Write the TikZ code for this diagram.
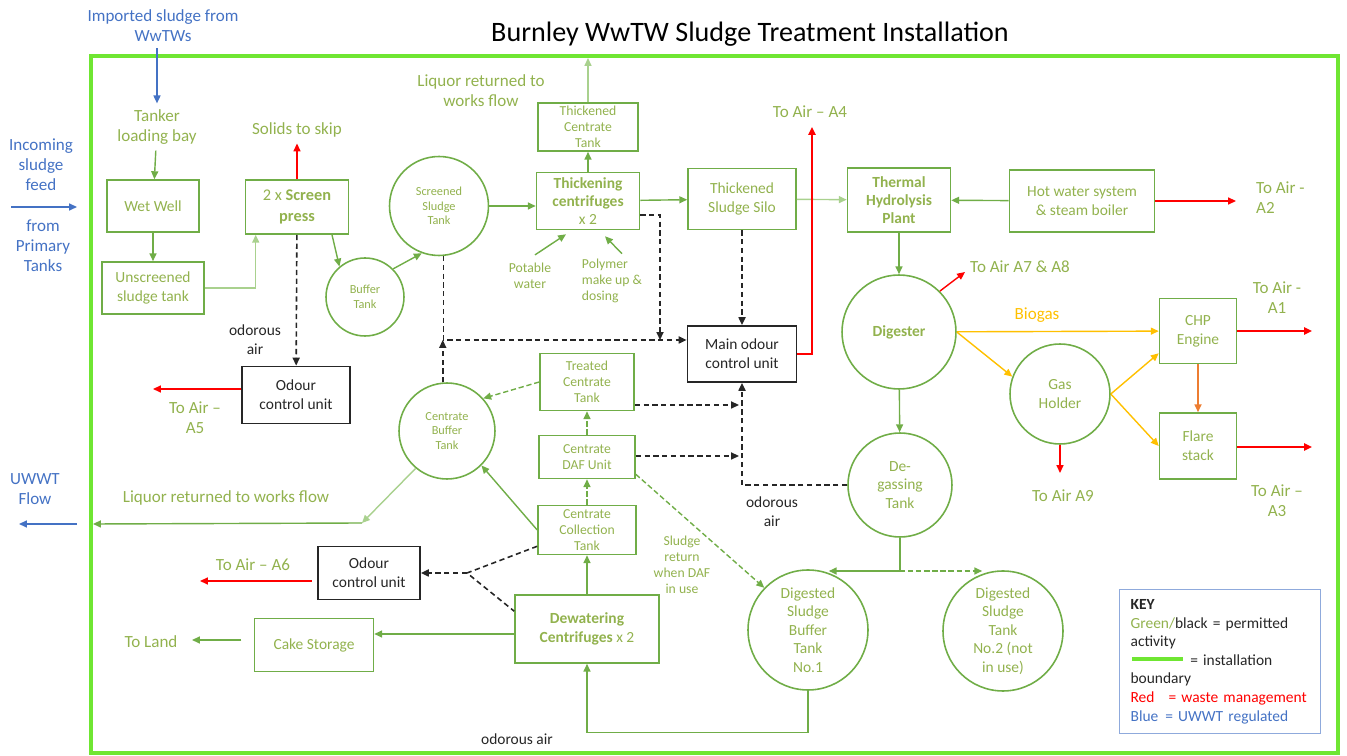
\documentclass[tikz,border=0pt]{standalone}
\usepackage{fontspec}
\setmainfont{Carlito}
\usepackage{tikz}
\usetikzlibrary{arrows.meta, positioning, calc}
\definecolor{stgreen}{HTML}{70AD47}
\definecolor{stlight}{HTML}{A9D18E}
\definecolor{sttext}{HTML}{92B24E}
\definecolor{stbound}{HTML}{6FE632}
\definecolor{stblue}{HTML}{4472C4}
\definecolor{stkey}{HTML}{8FAADC}
\definecolor{stred}{HTML}{FF0000}
\definecolor{stgas}{HTML}{FFC000}
\definecolor{storange}{HTML}{ED7D31}
\definecolor{stdark}{HTML}{262626}
\tikzset{
  plant/.style={rectangle, draw=stgreen, line width=0.9pt, text=sttext,
    align=center, font=\fontsize{8.8}{11}\selectfont, inner sep=1pt},
  tank/.style={circle, draw=stgreen, line width=0.9pt, text=sttext,
    align=center, font=\fontsize{8.8}{10.6}\selectfont, inner sep=0pt},
  odourbox/.style={rectangle, draw=stdark, line width=1pt, text=stdark,
    align=center, font=\fontsize{8.8}{11}\selectfont, inner sep=1pt},
  lbl/.style={text=sttext, align=center, font=\fontsize{9.7}{11.4}\selectfont},
  bluelbl/.style={lbl, text=stblue},
  blacklbl/.style={text=stdark, align=center, font=\fontsize{8.8}{10.6}\selectfont},
  smalltxt/.style={font=\fontsize{7.8}{9.2}\selectfont},
  tinytxt/.style={font=\fontsize{7}{8.4}\selectfont},
  keyframe/.style={rectangle, draw=stkey, line width=0.8pt, text=stdark,
    align=left, font=\fontsize{8.8}{10.6}\selectfont, text width=102pt,
    inner xsep=6.2pt, minimum height=2.88cm},
  stip/.style={-{Triangle[length=4.5pt,width=4pt]}},
  ar/.style={stip, stgreen, line width=0.8pt},
  arl/.style={stip, stlight, line width=0.8pt},
  dgar/.style={stip, stgreen, line width=0.8pt, dash pattern=on 3pt off 1.6pt},
  dline/.style={stdark, line width=0.9pt, dash pattern=on 3pt off 2pt},
  dar/.style={dline, stip},
  rar/.style={stip, stred, line width=0.8pt},
  gar/.style={stip, stgas, line width=0.8pt},
  bar/.style={stip, stblue, line width=0.8pt},
}
\begin{document}
\begin{tikzpicture}[x=0.02cm, y=-0.02cm]
  \useasboundingbox (0,0) rectangle (1347,756);
  % installation boundary
  \draw[stbound, line width=2.2pt] (91,56) rectangle (1338,753);
  \node[font=\fontsize{16}{18}\selectfont] (title) at (750,34) {Burnley WwTW Sludge Treatment Installation};

  % feeds outside the boundary
  \node[bluelbl] (imported) at (163,26) {Imported sludge from\\WwTWs};
  \node[bluelbl] (incoming) at (41,165) {Incoming\\sludge\\feed};
  \node[bluelbl] (primary) at (43,246) {from\\Primary\\Tanks};
  \node[bluelbl] (uwwt) at (35,489) {UWWT\\Flow};
  \coordinate (feedin) at (11,207);
  \coordinate (feedout) at (77,207);
  \coordinate (uwin) at (77,524);
  \coordinate (uwout) at (19,524);

  % inlet works and thickening
  \node[lbl] (tanker) at (157,127) {Tanker\\loading bay};
  \node[plant, minimum width=1.84cm, minimum height=1.04cm] (wetwell) at (153,206) {Wet Well};
  \node[plant, minimum width=2.04cm, minimum height=1.04cm] (unscreened) at (153,288) {Unscreened\\sludge tank};
  \node[plant, minimum width=2.06cm, minimum height=1.08cm, font=\fontsize{9.3}{12}\selectfont] (screen) at (297,207) {2 x \textbf{Screen}\\\textbf{press}};
  \node[lbl] (skip) at (297,130) {Solids to skip};
  \node[tank, tinytxt, minimum size=1.56cm] (buffer) at (365,297) {Buffer\\Tank};
  \node[tank, tinytxt, minimum size=1.98cm] (screened) at (439,206) {Screened\\Sludge\\Tank};
  \node[plant, minimum width=2.06cm, minimum height=1.14cm, font=\fontsize{8.8}{10.4}\selectfont] (thick) at (588,201) {\textbf{Thickening}\\\textbf{centrifuges}\\x 2};
  \node[plant, smalltxt, minimum width=2cm, minimum height=0.96cm] (tct) at (588,127) {Thickened\\Centrate\\Tank};
  \node[lbl] (liqtop) at (481,91) {Liquor returned to\\works flow};
  \coordinate (tctout) at (588,58);
  \node[lbl, smalltxt] (potable) at (530,276) {Potable\\water};
  \node[lbl, smalltxt, align=left] (polymer) at (612,281) {Polymer\\make up \&\\dosing};
  \node[plant, minimum width=2.16cm, minimum height=1.22cm] (silo) at (742,199) {Thickened\\Sludge Silo};
  \node[plant, minimum width=2.06cm, minimum height=1.28cm, font=\bfseries\fontsize{8.8}{10.4}\selectfont] (thp) at (899,200) {Thermal\\Hydrolysis\\Plant};
  \node[plant, minimum width=2.9cm, minimum height=1.24cm] (hotwater) at (1082,201) {Hot water system\\\& steam boiler};
  \node[lbl, align=left, anchor=west] (a2) at (1250,198) {To Air -\\A2};
  \coordinate (a2end) at (1236,201);

  % digestion and biogas
  \node[tank, minimum size=2.28cm, font=\bfseries\fontsize{8.8}{10.6}\selectfont] (digester) at (899,332) {Digester};
  \node[lbl] (a78) at (1020,267) {To Air A7 \& A8};
  \coordinate (a78end) at (965,272);
  \node[lbl, text=stgas] (biogas) at (1037,315) {Biogas};
  \node[tank, minimum size=2cm] (gasholder) at (1060,394) {Gas\\Holder};
  \node[plant, minimum width=1.54cm, minimum height=1.3cm] (chp) at (1198,331) {CHP\\Engine};
  \node[plant, minimum width=1.54cm, minimum height=1.32cm] (flare) at (1198,446) {Flare\\stack};
  \node[lbl] (a1) at (1277,298) {To Air -\\A1};
  \node[lbl] (a3) at (1277,501) {To Air –\\A3};
  \node[lbl] (a9) at (1063,496) {To Air A9};
  \coordinate (a1end) at (1312,331);
  \coordinate (a3end) at (1312,447);
  \coordinate (a9end) at (1060,473);
  \node[tank, minimum size=2.08cm] (degas) at (900,485) {De-\\gassing\\Tank};
  \node[tank, minimum size=2.4cm] (dsb1) at (808,630) {Digested\\Sludge\\Buffer\\Tank\\No.1};
  \node[tank, minimum size=2.4cm] (dsb2) at (1003,631) {Digested\\Sludge\\Tank\\No.2 (not\\in use)};
  \coordinate (split) at (900,571);

  % dewatering and centrate
  \node[plant, minimum width=2.88cm, minimum height=1.36cm] (dewater) at (587,629) {\textbf{Dewatering}\\\textbf{Centrifuges} x 2};
  \node[plant, smalltxt, minimum width=1.96cm, minimum height=0.98cm] (collect) at (587,530) {Centrate\\Collection\\Tank};
  \node[plant, smalltxt, minimum width=1.92cm, minimum height=0.86cm] (daf) at (587,457) {Centrate\\DAF Unit};
  \node[plant, smalltxt, minimum width=1.88cm, minimum height=1.14cm] (treated) at (587,382) {Treated\\Centrate\\Tank};
  \node[tank, tinytxt, minimum size=1.92cm] (cbuffer) at (447,431) {Centrate\\Buffer\\Tank};
  \node[lbl, smalltxt] (sludgeret) at (682,565) {Sludge\\return\\when DAF\\in use};
  \node[plant, minimum width=2.38cm, minimum height=1.06cm] (cake) at (314,645) {Cake Storage};
  \node[lbl] (land) at (151,642) {To Land};
  \coordinate (landend) at (192,640);
  \node[lbl] (liqflow) at (226,498) {Liquor returned to works flow};
  \coordinate (liqbend) at (362,523);
  \coordinate (liqout) at (93,524);

  % odour control
  \node[odourbox, minimum width=2.16cm, minimum height=1.14cm] (odourA) at (296,395) {Odour\\control unit};
  \node[blacklbl] (odair1) at (255,340) {odorous\\air};
  \node[lbl] (a5) at (195,418) {To Air –\\A5};
  \coordinate (a5end) at (153,389);
  \node[odourbox, minimum width=2.04cm, minimum height=1.06cm] (odourB) at (369,573) {Odour\\control unit};
  \node[lbl] (a6) at (253,565) {To Air – A6};
  \coordinate (a6end) at (200,581);
  \coordinate (obj) at (467,573);
  \node[odourbox, minimum width=2.18cm, minimum height=1.12cm] (mainodour) at (742,354) {Main odour\\control unit};
  \node[lbl] (a4) at (810,112) {To Air – A4};
  \coordinate (a4end) at (812,127);
  \coordinate (odjoin) at (660,340);
  \coordinate (odcorner) at (443,340);
  \coordinate (trt) at (739,405);
  \coordinate (dft) at (739,456);
  \node[blacklbl] (odair2) at (772,512) {odorous\\air};
  \node[blacklbl] (odair3) at (517,739) {odorous air};

  % key
  \node[keyframe, anchor=north west] (keybox) at (1119,589)
    {\textbf{KEY}\\
     \textcolor{sttext}{Green/}black = permitted\\
     activity\\
     \hspace*{1pt}\textcolor{stbound}{\rule[2.6pt]{29pt}{2.3pt}}\hspace{4pt}= installation\\
     boundary\\
     \textcolor{stred}{Red\hspace{8pt}= waste management}\\
     \textcolor{stblue}{Blue\hspace{4pt}= UWWT regulated}};

  % sludge flows
  \draw[bar] (imported.south -| tanker.north) -- (tanker.north);
  \draw[bar] (feedin) -- (feedout);
  \draw[bar] (uwin) -- (uwout);
  \draw[ar] (tanker) -- (wetwell);
  \draw[ar] (wetwell) -- (unscreened);
  \draw[arl] (unscreened.east) -| ($(screen.south west)+(11,0)$);
  \draw[rar] (screen) -- (skip);
  \draw[ar] ($(screen.south)+(35,0)$) -- (buffer.130);
  \draw[ar] (buffer.45) -- (screened.250);
  \draw[ar] (screened.east) -- (screened.east -| thick.west);
  \draw[ar] (thick) -- (tct);
  \draw[arl] (tct) -- (tctout);
  \draw[ar] ($(potable.north)+(5,-2)$) -- ($(thick.south)+(-22,4)$);
  \draw[ar] ($(polymer.north)+(10,1)$) -- ($(thick.south)+(17,6)$);
  \draw[ar] (thick) -- (silo);
  \draw[arl] (silo) -- (thp);
  \draw[ar] (hotwater) -- (thp);
  \draw[rar] (hotwater) -- (a2end);
  \draw[ar] (thp) -- (digester);
  \draw[rar] (digester.45) -- (a78end);
  \draw[gar] (digester) -- (chp);
  \draw[gar] (digester.east) -- (gasholder.160);
  \draw[gar] (gasholder.east) -- ($(chp.south west)+(0,-11)$);
  \draw[gar] (gasholder.east) -- (flare.west);
  \draw[stip, storange, line width=0.9pt] (chp) -- (flare);
  \draw[rar, line width=1.2pt] (chp) -- (a1end);
  \draw[rar, line width=1.2pt] (flare.east |- a3end) -- (a3end);
  \draw[rar] (gasholder) -- (a9end);
  \draw[ar] (digester) -- (degas);
  \draw[stgreen, line width=0.8pt] (degas) -- (split);
  \draw[ar] (split) -- (split -| dsb1.70);
  \draw[dgar] (split) -- (split -| dsb2.110);
  \draw[ar] (dsb1.south) -- ++(0,42) -| (dewater.south);
  \draw[ar] (dewater) -- (collect);
  \draw[dgar] (collect) -- (daf);
  \draw[dgar] (daf) -- (treated);
  \draw[ar] (collect.west) -- (cbuffer.-45);
  \draw[dgar] (treated.west) -- (cbuffer.42);
  \draw[dgar] ($(daf.south east)+(0,-5)$) -- (dsb1.136);
  \draw[arl] (cbuffer.-130) -- (liqbend);
  \draw[ar] (liqbend) -- (liqout);
  \path ($(dewater.west)+(0,5)$) coordinate (dwout);
  \draw[ar] (dwout) -- (dwout -| cake.east);
  \draw[ar, shorten <=7pt] (cake.west |- landend) -- (landend);

  % odorous air
  \draw[dar] (screen) -- (odourA);
  \draw[rar] (odourA.west |- a5end) -- (a5end);
  \draw[dline] ($(collect.south west)+(0,-9)$) -- (obj) -- ($(dewater.north west)+(0,17)$);
  \draw[dar] (obj) -- (odourB);
  \draw[rar, shorten <=3pt] (odourB.west |- a6end) -- (a6end);
  \draw[dar] (silo) -- (mainodour);
  \draw[dar] ($(thick.east)+(0,14)$) -| (odjoin);
  \draw[dar] (screened.-85) |- (mainodour.west |- odcorner);
  \draw[dar] (cbuffer.95) -- (cbuffer.95 |- odcorner);
  \draw[dar] (treated.east |- trt) -- (trt);
  \draw[dar] (daf.east |- dft) -- (dft);
  \draw[dar] (degas.west) -| (mainodour.south);
  \draw[stip, stred, line width=1.2pt] (mainodour.east) -| (a4end);
\end{tikzpicture}
\end{document}
